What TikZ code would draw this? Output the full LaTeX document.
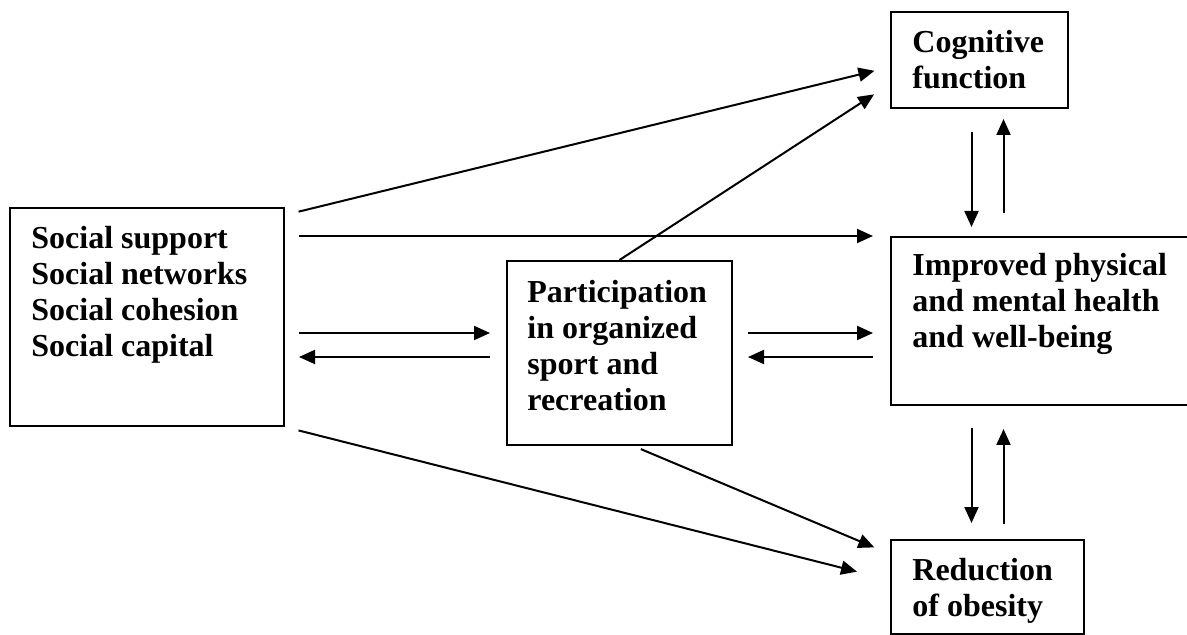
\documentclass[tikz,border=0pt]{standalone}
\usepackage{fontspec}
\setmainfont{Liberation Serif}
\usepackage{tikz}
\usetikzlibrary{calc,arrows.meta,positioning}
\tikzset{
  ar/.style={-{Triangle[length=8pt,width=7pt]},line width=1pt,black},
  box/.style={draw,line width=1pt,anchor=north west,inner sep=0pt},
  txt/.style={anchor=north west,align=left,inner sep=0pt,font=\fontsize{16}{18}\selectfont\bfseries}
}
\begin{document}
\begin{tikzpicture}[x=0.5pt,y=-0.5pt]
\clip (0,0) rectangle (1187,635);
\node[box,minimum width=137pt,minimum height=109pt] (soc) at (9,207) {};
\node[box,minimum width=112.5pt,minimum height=92pt] (part) at (506,260) {};
\node[box,minimum width=88.5pt,minimum height=48pt] (cog) at (890,11) {};
\node[box,minimum width=155pt,minimum height=84pt] (hlth) at (890,236) {};
\node[box,minimum width=96.5pt,minimum height=47pt] (obes) at (890,539) {};
\node[txt] (socT) at ($(soc.north west)+(22,19)$) {Social support\\Social networks\\Social cohesion\\Social capital};
\node[txt] (partT) at ($(part.north west)+(21,20)$) {Participation\\in organized\\sport and\\recreation};
\node[txt] (cogT) at ($(cog.north west)+(22,19)$) {Cognitive\\function};
\node[txt] (hlthT) at ($(hlth.north west)+(22,17)$) {Improved physical\\and mental health\\and well-being};
\node[txt] (obesT) at ($(obes.north west)+(22,19)$) {Reduction\\of obesity};
\coordinate (pa) at ($(part.west)+(0,-20)$);
\coordinate (pb) at ($(part.west)+(0,4)$);
\draw[ar,shorten <=7pt,shorten >=8pt] ($(soc.north east)+(0,8)$) -- ($(cog.west)+(0,7)$);
\draw[ar,shorten <=7pt,shorten >=8.5pt] (soc.east |- hlth.north west) -- (hlth.north west);
\draw[ar,shorten <=7pt,shorten >=8pt] (soc.east |- pa) -- (pa);
\draw[ar,shorten <=8pt,shorten >=7pt] (pb) -- (soc.east |- pb);
\draw[ar,shorten <=7.5pt,shorten >=8.5pt] (part.east |- pa) -- (hlth.west |- pa);
\draw[ar,shorten <=8.5pt,shorten >=7.5pt] (hlth.west |- pb) -- (part.east |- pb);
\draw[ar,shorten <=7pt,shorten >=17pt] (soc.south east) -- ($(obes.west)+(0,-7)$);
\draw[ar,shorten >=9.5pt] (part.north) -- ($(cog.west)+(0,24)$);
\draw[ar,shorten <=4pt,shorten >=8.5pt] ($(part.south)+(14,0)$) -- ($(obes.north west)+(0,15)$);
\coordinate (c1) at ($(cog.south)+(-8,0)$);
\coordinate (c2) at ($(cog.south)+(24,0)$);
\draw[ar,shorten <=11.5pt,shorten >=4.5pt] (c1) -- (c1 |- hlth.north);
\draw[ar,shorten <=11.5pt,shorten >=5pt] (c2 |- hlth.north) -- (c2);
\draw[ar,shorten <=11pt,shorten >=8pt] (c1 |- hlth.south) -- (c1 |- obes.north);
\draw[ar,shorten <=7.5pt,shorten >=11.5pt] (c2 |- obes.north) -- (c2 |- hlth.south);
\end{tikzpicture}
\end{document}
